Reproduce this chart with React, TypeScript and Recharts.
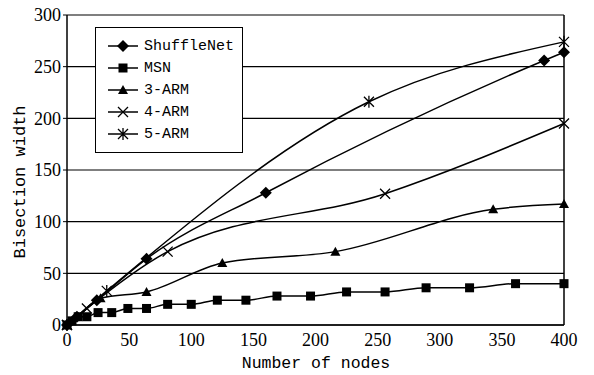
import React from "react";
import { LineChart, Line, XAxis, YAxis, CartesianGrid, ReferenceLine } from "recharts";

const shuffleX = [0, 8, 24, 64, 160, 384, 400];
const shuffleY = [0, 8, 24, 64, 128, 256, 264];
const msnX = [0, 4, 9, 16, 25, 36, 49, 64, 81, 100, 121, 144, 169, 196, 225, 256, 289, 324, 361, 400];
const msnY = [0, 4, 8, 8, 12, 12, 16, 16, 20, 20, 24, 24, 28, 28, 32, 32, 36, 36, 40, 40];
const arm3X = [0, 8, 27, 64, 125, 216, 343, 400];
const arm3Y = [0, 8, 26, 32, 60, 71, 112, 117];
const arm4X = [0, 16, 81, 256, 400];
const arm4Y = [0, 16, 71, 127, 195];
const arm5X = [0, 32, 243, 400];
const arm5Y = [0, 33, 216, 274];

const xTicks = [0, 50, 100, 150, 200, 250, 300, 350, 400];
const yTicks = [0, 50, 100, 150, 200, 250, 300];

const zip = (xs: number[], ys: number[]) => xs.map((x, i) => ({ x, y: ys[i] }));

type Shape = "diamond" | "square" | "triangle" | "cross" | "star";

function marker(shape: Shape, cx: number, cy: number, key?: string | number) {
  switch (shape) {
    case "diamond":
      return <path key={key} d={`M${cx},${cy - 6}L${cx + 6},${cy}L${cx},${cy + 6}L${cx - 6},${cy}Z`} fill="#000" />;
    case "square":
      return <rect key={key} x={cx - 4.5} y={cy - 4.5} width={9} height={9} fill="#000" />;
    case "triangle":
      return <path key={key} d={`M${cx},${cy - 5}L${cx + 5},${cy + 4}L${cx - 5},${cy + 4}Z`} fill="#000" />;
    case "cross":
      return (
        <path key={key} d={`M${cx - 5},${cy - 5}L${cx + 5},${cy + 5}M${cx - 5},${cy + 5}L${cx + 5},${cy - 5}`} stroke="#000" strokeWidth={1.3} />
      );
    default:
      return (
        <path
          key={key}
          d={`M${cx - 5},${cy - 5}L${cx + 5},${cy + 5}M${cx - 5},${cy + 5}L${cx + 5},${cy - 5}M${cx},${cy - 6}L${cx},${cy + 6}`}
          stroke="#000"
          strokeWidth={1.3}
        />
      );
  }
}

const dotFor = (shape: Shape) => (p: any) => marker(shape, p.cx, p.cy, p.index);

const series: { name: string; shape: Shape; data: { x: number; y: number }[] }[] = [
  { name: "ShuffleNet", shape: "diamond", data: zip(shuffleX, shuffleY) },
  { name: "MSN", shape: "square", data: zip(msnX, msnY) },
  { name: "3-ARM", shape: "triangle", data: zip(arm3X, arm3Y) },
  { name: "4-ARM", shape: "cross", data: zip(arm4X, arm4Y) },
  { name: "5-ARM", shape: "star", data: zip(arm5X, arm5Y) },
];

const mono = "'Liberation Mono', monospace";
const serif = "'Liberation Serif', serif";

function LegendBox() {
  return (
    <div
      style={{
        position: "absolute",
        left: 95,
        top: 27,
        background: "#fff",
        border: "1.5px solid #000",
        width: 148,
        height: 126,
        boxSizing: "border-box",
        paddingTop: 7,
        fontFamily: mono,
        fontSize: 15,
      }}
    >
      {series.map((s) => (
        <div key={s.name} style={{ display: "flex", alignItems: "center", height: 22 }}>
          <svg width={36} height={14} style={{ marginLeft: 10 }}>
            <line x1={2} y1={7} x2={32} y2={7} stroke="#000" strokeWidth={1.5} />
            {marker(s.shape, 17, 7)}
          </svg>
          <span style={{ marginLeft: 2 }}>{s.name}</span>
        </div>
      ))}
    </div>
  );
}

const YTitle = () => (
  <text transform="translate(25,182) rotate(-90)" textAnchor="middle" fill="#000" fontFamily={mono} fontSize={17}>
    Bisection width
  </text>
);

const XTitle = () => (
  <text x={316} y={368} textAnchor="middle" fill="#000" fontFamily={mono} fontSize={16.5}>
    Number of nodes
  </text>
);

export default function App() {
  return (
    <div style={{ position: "absolute", left: 0, top: 0, width: 594, height: 375, background: "#fff" }}>
      <LineChart width={594} height={375} margin={{ top: 15, right: 30, bottom: 20, left: 0 }}>
        <CartesianGrid vertical={false} stroke="#000" strokeWidth={1.2} />
        <XAxis
          dataKey="x"
          type="number"
          domain={[0, 400]}
          ticks={xTicks}
          tickLine={false}
          axisLine={{ stroke: "#000", strokeWidth: 1.5 }}
          tick={{ fill: "#000", fontFamily: serif, fontSize: 18 }}
          height={30}
          label={{ content: XTitle }}
        />
        <YAxis
          dataKey="y"
          type="number"
          domain={[0, 300]}
          ticks={yTicks}
          width={67}
          tickSize={4}
          tickLine={{ stroke: "#000" }}
          axisLine={{ stroke: "#000", strokeWidth: 1.5 }}
          tick={{ fill: "#000", fontFamily: serif, fontSize: 18 }}
          label={{ content: YTitle }}
        />
        <ReferenceLine x={400} stroke="#000" strokeWidth={1.5} />
        {series.map((s) => (
          <Line
            key={s.name}
            name={s.name}
            data={s.data}
            dataKey="y"
            type="monotone"
            stroke="#000"
            strokeWidth={1.5}
            dot={dotFor(s.shape)}
            activeDot={false}
            isAnimationActive={false}
          />
        ))}
      </LineChart>
      <LegendBox />
    </div>
  );
}
